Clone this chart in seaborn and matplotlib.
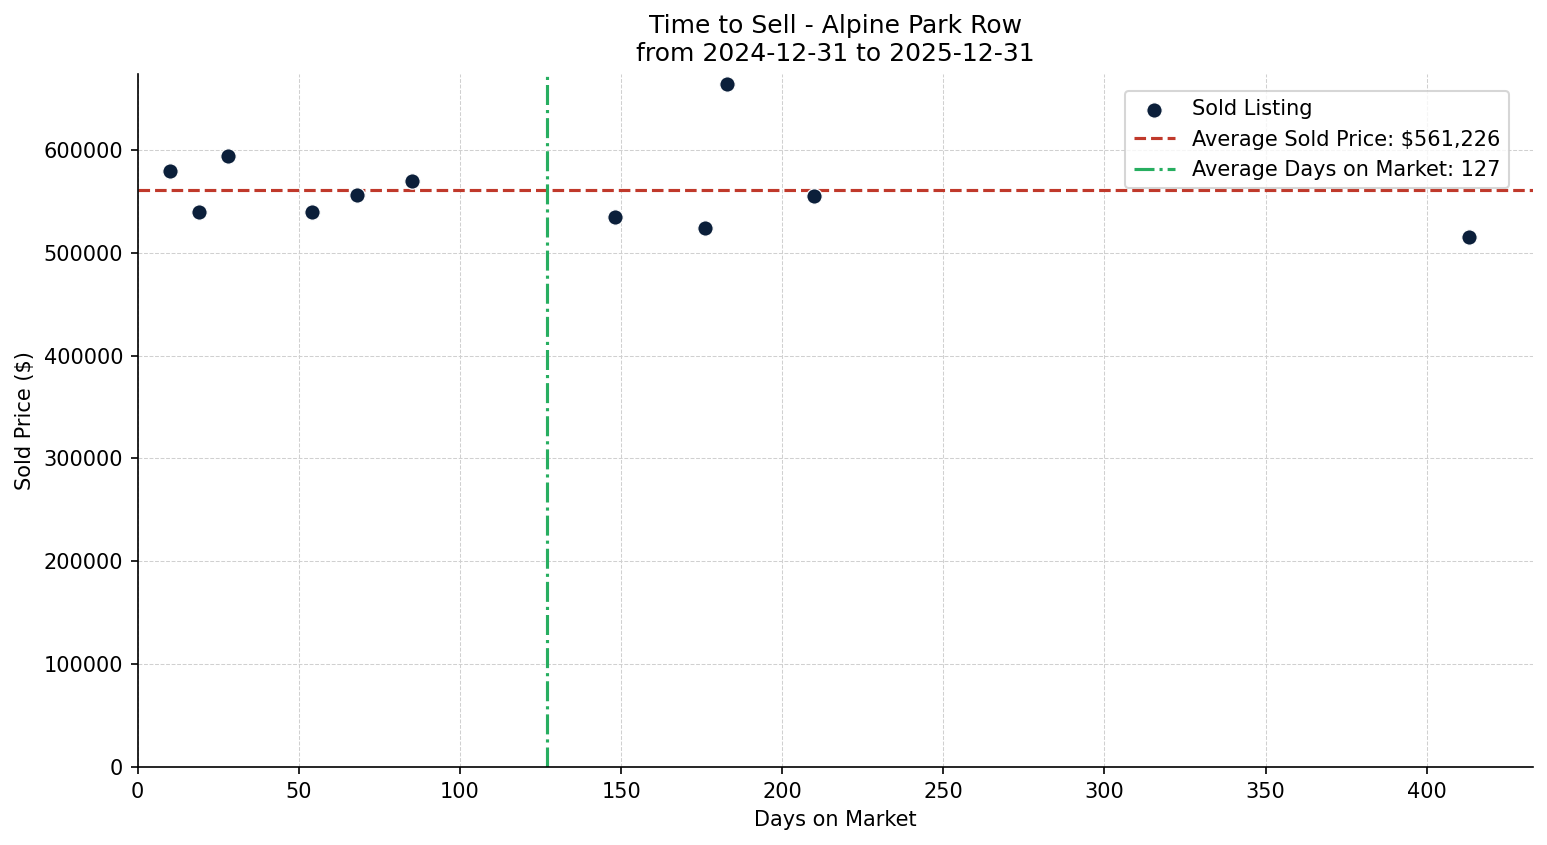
import matplotlib
matplotlib.use("Agg")
import matplotlib.pyplot as plt
import seaborn as sns
import pandas as pd

days = [10, 19, 28, 54, 68, 85, 148, 176, 183, 210, 413]
prices = [579600, 539800, 594200, 539800, 556300, 569900, 535000, 524300, 663790, 555300, 515500]

df = pd.DataFrame({"days": days, "price": prices})
avg_p = sum(prices) / len(prices)
avg_d = round(sum(days) / len(days))

sns.set_style("ticks")
plt.rcParams.update({"text.color": "black", "axes.labelcolor": "black",
                     "xtick.color": "black", "ytick.color": "black",
                     "axes.edgecolor": "black", "font.size": 10})
fig, ax = plt.subplots(figsize=(1547/150, 845/150), dpi=150)
sns.scatterplot(data=df, x="days", y="price", ax=ax, color="#0b1f3a", s=55,
                edgecolor="white", linewidth=0.6, label="Sold Listing", zorder=3)
ax.axhline(avg_p, color="#c0392b", ls="--", lw=1.5, label=f"Average Sold Price: ${avg_p:,.0f}")
ax.axvline(avg_d, color="#27ae60", ls="-.", lw=1.5, label=f"Average Days on Market: {avg_d}")
ax.set_xlim(0, 433)
ax.set_ylim(0, 674000)
ax.grid(True, ls="--", lw=0.5, color="#d0d0d0")
ax.set_axisbelow(True)
sns.despine(ax=ax)
ax.set_xlabel("Days on Market", fontsize=10)
ax.set_ylabel("Sold Price ($)", fontsize=10)
ax.tick_params(labelsize=10)
ax.set_title("Time to Sell - Alpine Park Row\nfrom 2024-12-31 to 2025-12-31", fontsize=12)
leg = ax.legend(loc="upper right", fontsize=10, frameon=True, bbox_to_anchor=(0.99, 0.99))
leg.get_frame().set_edgecolor("#cccccc")
plt.subplots_adjust(left=0.089, right=0.991, top=0.913, bottom=0.092)
fig.savefig("out.png", dpi=150)
